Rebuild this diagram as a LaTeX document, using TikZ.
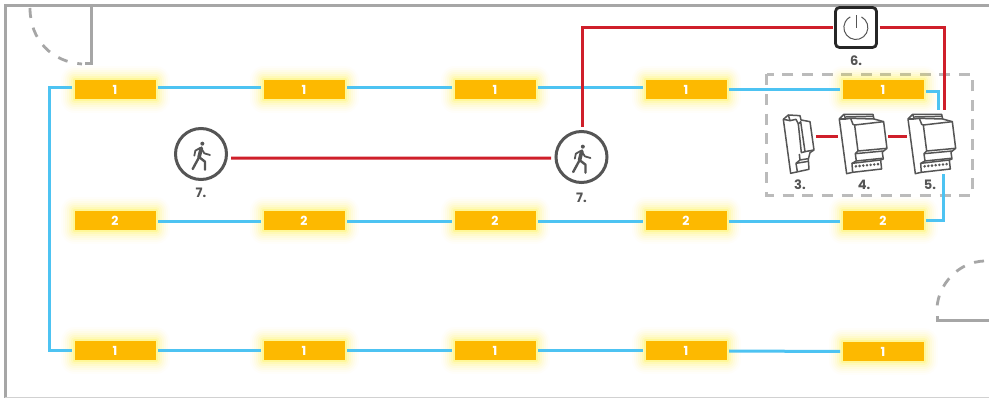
\documentclass[tikz,border=0pt]{standalone}
\usepackage{fontspec}
\setmainfont{Poppins}
\usetikzlibrary{calc}
\definecolor{wallgrey}{HTML}{A6A6A6}
\definecolor{boxgrey}{HTML}{BBBBBB}
\definecolor{lampfill}{HTML}{FDB900}
\definecolor{glowcol}{HTML}{FFF200}
\definecolor{bluewire}{HTML}{4DC3F2}
\definecolor{redwire}{HTML}{CF1F2A}
\definecolor{iconcol}{HTML}{555555}
\tikzset{
  x=1pt,y=-1pt,
  wall/.style={draw=wallgrey,line width=3pt},
  doorarc/.style={draw=wallgrey,line width=2.8pt,dash pattern=on 10pt off 10pt},
  lamp/.style={rectangle,fill=lampfill,minimum width=81pt,minimum height=19pt,inner sep=0pt,outer sep=2.5pt,
    text=white,font=\fontsize{12.5}{12.5}\selectfont\bfseries,
    preaction={draw=glowcol,line join=round,line width=28pt,draw opacity=.02},
    preaction={draw=glowcol,line join=round,line width=24pt,draw opacity=.03},
    preaction={draw=glowcol,line join=round,line width=20pt,draw opacity=.04},
    preaction={draw=glowcol,line join=round,line width=16pt,draw opacity=.05},
    preaction={draw=glowcol,line join=round,line width=12pt,draw opacity=.07},
    preaction={draw=glowcol,line join=round,line width=8pt,draw opacity=.10},
    preaction={draw=glowcol,line join=round,line width=4pt,draw opacity=.16}},
  blue/.style={draw=bluewire,line width=3pt},
  red/.style={draw=redwire,line width=3pt},
  tag/.style={text=iconcol,font=\fontsize{13}{13}\selectfont\bfseries,inner sep=0pt},
  sensor/.style={circle,draw=iconcol,line width=3pt,minimum size=51pt,inner sep=0pt,outer sep=5pt},
  switchbox/.style={rectangle,rounded corners=4pt,draw=black!85,line width=2.8pt,minimum width=41pt,minimum height=40pt,inner sep=0pt,outer sep=3pt},
  dashbox/.style={draw=boxgrey,line width=3.4pt,dash pattern=on 11pt off 8.6pt},
  modline/.style={draw=iconcol,line width=1.5pt,line join=round},
  pics/walker/.style={code={
    \begin{scope}[x=.3333pt,y=-.3333pt]
      \fill[iconcol] (4,-31) circle (6);
      \draw[iconcol,line width=3.6pt,line cap=round] (1,-18) -- (-6,10);
      \draw[iconcol,line width=1.8pt,line cap=round,line join=round] (-3,-18) -- (-17,-10) -- (-20,5);
      \draw[iconcol,line width=1.8pt,line cap=round,line join=round] (2,-15) -- (10,-2) -- (27,3);
      \draw[iconcol,line width=2.4pt,line cap=round] (-6,10) -- (-25,45);
      \draw[iconcol,line width=2.4pt,line cap=round,line join=round] (-5,10) -- (12,23) -- (12,47);
    \end{scope}}},
  pics/bigmodule/.style={code={
    \begin{scope}[x=.3333pt,y=-.3333pt]
      \draw[modline,fill=white] (84,72) -- (98,58) -- (185,58) -- (188,72) -- (217,80) -- (227,160) -- (217,168) -- (213,172) -- (216,192) -- (208,195) -- (211,222) -- (124,232) -- (106,236) -- cycle;
      \draw[modline] (98,58) -- (103,72) -- (118,70) -- (125,88) -- (130,90) -- (217,80);
      \draw[modline] (103,66) -- (186,64);
      \draw[modline] (118,70) -- (188,72);
      \draw[modline] (84,72) -- (103,72);
      \draw[modline] (130,90) -- (140,168) -- (227,160);
      \draw[modline] (140,168) -- (132,176) -- (135,198) -- (213,190);
      \draw[modline] (132,176) -- (217,168);
      \draw[modline] (135,198) -- (122,205) -- (208,195);
      \draw[modline] (122,205) -- (124,232);
      \foreach \k in {0,1,2,3,4,5,6}
        \draw[iconcol,line width=.8pt] (134+\k*11,214-\k*1.1) circle (2.6);
    \end{scope}}},
  pics/slimmodule/.style={code={
    \begin{scope}[x=.3333pt,y=-.3333pt]
      \draw[modline,fill=white] (70,358) -- (85,345) -- (120,347) -- (123,360) -- (150,365) -- (162,450) -- (150,458) -- (145,478) -- (147,508) -- (92,520) -- cycle;
      \draw[modline] (85,345) -- (90,362) -- (108,358) -- (115,372) -- (122,365) -- (135,455) -- (162,450);
      \draw[modline] (70,358) -- (90,362);
      \draw[modline] (115,372) -- (124,458) -- (135,455);
      \draw[modline] (118,462) -- (120,480) -- (145,476);
      \draw[modline] (120,480) -- (108,490) -- (112,515);
      \draw[modline] (108,490) -- (146,484);
    \end{scope}}}
}
\begin{document}
\begin{tikzpicture}
\useasboundingbox (0,0) rectangle (989,398);
\fill[white] (0,0) rectangle (989,398);

% walls
\draw[wall] (989,6) -- (5,6) -- (5,398);
\draw[draw=black!18,line width=1pt] (5,397.5) -- (989,397.5);
\draw[wall] (91,6) -- (91,64) -- (85,64);
\draw[doorarc] (30,8) .. controls (30,40) and (52,62) .. (82,64);
\draw[wall] (989,321) -- (937,321) -- (937,316);
\draw[doorarc] (984,261) .. controls (958,262) and (938,285) .. (937,308);

% dashed enclosure
\draw[dashbox] (766.5,74.5) rectangle (972.5,195.5);

% lamps
\node[lamp] (a11) at (115,89.5) {1};
\node[lamp] (a12) at (304,89.5) {1};
\node[lamp] (a13) at (495,89.5) {1};
\node[lamp] (a14) at (686,89.5) {1};
\node[lamp] (a15) at (883,89.5) {1};
\node[lamp] (a21) at (115,220.5) {2};
\node[lamp] (a22) at (304,220.5) {2};
\node[lamp] (a23) at (495,220.5) {2};
\node[lamp] (a24) at (686,220.5) {2};
\node[lamp] (a25) at (883,220.5) {2};
\node[lamp] (a31) at (115,351) {1};
\node[lamp] (a32) at (304,351) {1};
\node[lamp] (a33) at (495,351) {1};
\node[lamp] (a34) at (686,351) {1};
\node[lamp] (a35) at (883,351.5) {1};

% sensors and switch
\node[sensor] (s1) at (201,154) {};
\pic at (s1) {walker};
\node[sensor] (s2) at (581.5,157) {};
\pic at (s2) {walker};
\node[tag] (t71) at (201,193) {7.};
\node[tag] (t72) at (581.5,198) {7.};
\node[switchbox] (sw) at (856,27.5) {};
\draw[iconcol,line width=1pt] (856,28) -- (856,15);
\draw[iconcol,line width=1pt] ($(sw.center)+(5.5,-10.6)$) arc[start angle=62,end angle=-242,radius=12pt];
\node[tag] (t6) at (856,60.5) {6.};

% din modules
\pic at (760,0) {slimmodule};
\pic at (811.3,95) {bigmodule};
\pic at (880,95) {bigmodule};
\node[tag] (t3) at (800,184.5) {3.};
\node[tag] (t4) at (864,184.5) {4.};
\node[tag] (t5) at (930,184.5) {5.};

\coordinate (m3e) at (816,137);
\coordinate (m4w) at (838,137);
\coordinate (m4e) at (888,137);
\coordinate (m5w) at (907,137);
\coordinate (m5b) at (938,110);
\coordinate (m5r) at (944.5,110);
\coordinate (m5d) at (943.5,174);
\coordinate (leftbus) at (49,220);

% blue wiring
\draw[blue] (a11.2) -- (a12.178);
\draw[blue] (a12.2) -- (a13.178);
\draw[blue] (a13.2) -- (a14.178);
\draw[blue] (a14.east) -- (a15.west);
\draw[blue] (a15.-3) -| (m5b);
\draw[blue] (a11.178) -| (leftbus) |- (a31.west);
\draw[blue] (a21.-2) -- (a22.182);
\draw[blue] (a22.-2) -- (a23.182);
\draw[blue] (a23.-2) -- (a24.182);
\draw[blue] (a24.-2) -- (a25.182);
\draw[blue] (a25.east) -| (m5d);
\draw[blue] (a31.east) -- (a32.west);
\draw[blue] (a32.east) -- (a33.west);
\draw[blue] (a33.east) -- (a34.west);
\draw[blue] (a34.east) -- (a35.west);

% red wiring
\draw[red] (s1.-8) -- (s2.182);
\draw[red] (s2.88) |- (sw.west);
\draw[red] (sw.east) -| (m5r);
\draw[red] (m3e) -- (m4w);
\draw[red] (m4e) -- (m5w);
\end{tikzpicture}
\end{document}
